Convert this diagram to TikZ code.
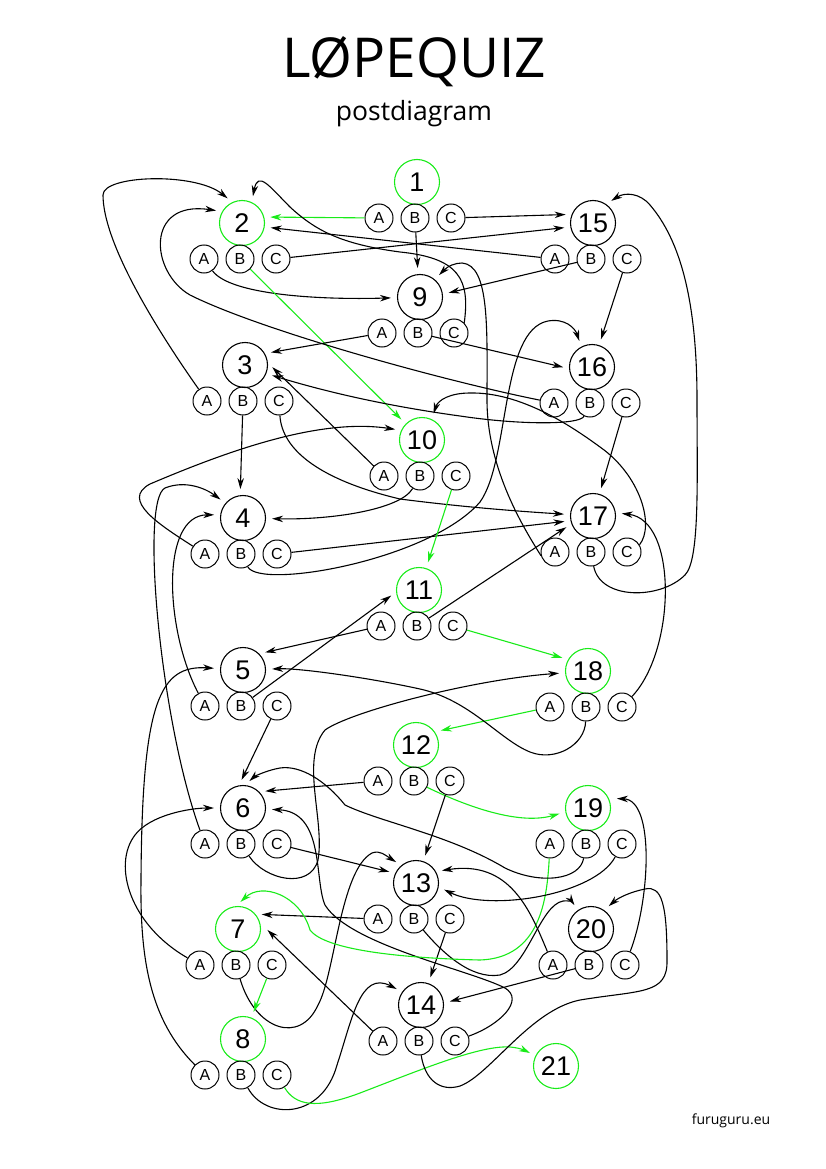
\documentclass[tikz,border=0pt]{standalone}
\usepackage{fontspec}
\setmainfont{Open Sans}
\newfontfamily\numfont{Liberation Sans}
\usetikzlibrary{arrows.meta}
\definecolor{okgreen}{RGB}{25,235,25}

% one post: big circle with its number, three answer circles below
\newcommand{\post}[4]{%
  \node[#4] (p#1) at (#2,#3) {#1};
  \node[opt] (p#1A) at ([shift={(-38,36)}]p#1.center) {A};
  \node[opt] (p#1B) at ([shift={(-2,36)}]p#1.center) {B};
  \node[opt] (p#1C) at ([shift={(34,36)}]p#1.center) {C};
}

\begin{document}
\begin{tikzpicture}[
  x=1pt, y=-1pt,
  > = {Stealth[length=11pt,width=6.5pt,inset=3.5pt]},
  big/.style = {draw,circle,line width=1.1pt,minimum size=45pt,inner sep=0pt,font=\numfont\fontsize{27}{27}\selectfont},
  goal/.style = {big,draw=okgreen},
  opt/.style = {draw,circle,line width=1pt,minimum size=28pt,inner sep=0pt,font=\numfont\fontsize{16}{16}\selectfont},
  link/.style = {->,line width=1.1pt,shorten >=6pt},
  way/.style = {link,color=okgreen}
  ]
	\useasboundingbox (0,0) rectangle (826,1169);

	\node[font=\fontsize{55}{55}\selectfont,anchor=base] (title) at (414,78) {LØPEQUIZ};
	\node[font=\fontsize{26.5}{26.5}\selectfont,anchor=base] (sub) at (414,121) {postdiagram};
	\node[font=\fontsize{14}{14}\selectfont,anchor=base] (site) at (731,1124) {furuguru.eu};

	\post{1}{417}{182}{goal}
	\post{2}{242}{223}{goal}
	\post{15}{593}{223}{big}
	\post{9}{420}{297}{big}
	\post{3}{245}{365}{big}
	\post{16}{592}{367}{big}
	\post{10}{422}{440}{goal}
	\post{4}{243}{518}{big}
	\post{17}{593}{516}{big}
	\post{11}{419}{590}{goal}
	\post{5}{243}{670}{big}
	\post{18}{588}{671}{goal}
	\post{12}{416}{745}{goal}
	\post{6}{243}{808}{big}
	\post{19}{588}{808}{goal}
	\post{13}{416}{883}{big}
	\post{7}{238}{929}{goal}
	\post{20}{591}{929}{big}
	\post{14}{421}{1005}{big}
	\post{8}{243}{1039}{goal}
	\node[goal] (p21) at (556,1066) {21};

	% 1 to 4
	\draw[way] (p1A) -- (p2.15);
	\draw[link] (p1B) -- (p9.95);
	\draw[link] (p1C) -- (p15.158);
	\draw[link] (p2A) .. controls (230,295) and (320,300) .. (p9);
	\draw[way] (p2B) -- (p10);
	\draw[link] (p2C) -- (p15.190);
	\draw[link] (p3A) .. controls (150,320) and (103,240) .. (103,195) .. controls (103,175) and (195,172) .. (p2.115);
	\draw[link] (p3B) -- (p4.97);
	\draw[link] (p3C) .. controls (282,450) and (320,480) .. (400,499) .. controls (470,508) and (530,512) .. (p17);
	\draw[link] (p4A) .. controls (160,525) and (120,500) .. (150,484) .. controls (230,450) and (320,418) .. (p10.155);
	\draw[link] (p4B) .. controls (260,590) and (430,560) .. (480,502) .. controls (510,460) and (500,330) .. (548,321) .. controls (565,318) and (575,328) .. (p16.118);
	\draw[link] (p4C) -- (p17.192);

	% 5 to 8
	\draw[link] (p5A) .. controls (165,630) and (160,515) .. (p4.172);
	\draw[link] (p5B) -- (p11.185);
	\draw[link] (p5C) -- (p6.100);
	\draw[link] (p6A) .. controls (160,720) and (140,500) .. (165,488) .. controls (185,480) and (205,488) .. (p4.140);
	\draw[link] (p6B) .. controls (265,880) and (310,890) .. (318,860) .. controls (325,820) and (300,760) .. (325,730) .. controls (350,712) and (470,680) .. (p18);
	\draw[link] (p6C) -- (p13.155);
	\draw[link] (p7A) .. controls (130,925) and (112,865) .. (135,835) .. controls (150,815) and (190,808) .. (p6);
	\draw[link] (p7B) .. controls (255,1030) and (300,1045) .. (318,1005) .. controls (335,975) and (340,870) .. (372,853) .. controls (380,850) and (385,855) .. (p13.130);
	\draw[way] (p7C) -- (p8);
	\draw[link] (p8A) .. controls (150,1020) and (140,960) .. (141,880) .. controls (142,700) and (160,665) .. (p5);
	\draw[link] (p8B) .. controls (265,1120) and (322,1120) .. (337,1065) .. controls (352,1020) and (360,970) .. (p14.145);
	\draw[way] (p8C) .. controls (295,1105) and (315,1110) .. (360,1093) .. controls (420,1070) and (480,1045) .. (510,1047) .. controls (522,1048) and (528,1052) .. (p21);

	% 9 to 12
	\draw[link] (p9A) -- (p3.30);
	\draw[link] (p9B) -- (p16.184);
	\draw[link] (p9C.north east) .. controls (470,280) and (460,258) .. (400,252) .. controls (340,244) and (315,230) .. (290,207) .. controls (270,187) and (258,170) .. (p2.65);
	\draw[link] (p10A) -- (p3.5);
	\draw[link] (p10B) .. controls (400,510) and (330,520) .. (p4);
	\draw[way] (p10C) -- (p11);
	\draw[link] (p11A) -- (p5.45);
	\draw[link] (p11B) -- (p17.200);
	\draw[way] (p11C) -- (p18.150);
	\draw[link] (p12A) -- (p6.45);
	\draw[way] (p12B) .. controls (470,808) and (520,825) .. (p19.190);
	\draw[link] (p12C) -- (p13);

	% 13 to 16
	\draw[link] (p13A) -- (p7.40);
	\draw[link] (p13B) .. controls (440,950) and (470,980) .. (500,975) .. controls (527,968) and (540,905) .. (563,901) .. controls (568,900) and (573,903) .. (p20.125);
	\draw[link] (p13C) -- (p14);
	\draw[link,shorten >=10pt] (p14A) -- (p7.15);
	\draw[link] (p14B) .. controls (425,1080) and (440,1092) .. (460,1086) .. controls (490,1075) and (530,1010) .. (580,1000) .. controls (640,990) and (668,995) .. (667,960) .. controls (667,905) and (662,885) .. (645,889) .. controls (630,892) and (618,898) .. (p20.55);
	\draw[link] (p14C) .. controls (500,1025) and (525,1000) .. (505,988) .. controls (470,970) and (350,945) .. (325,905) .. controls (314,880) and (325,812) .. (p6);
	\draw[link] (p15A) -- (p2.350);
	\draw[link] (p15B) -- (p9.7);
	\draw[link] (p15C) -- (p16);
	\draw[link] (p16A) .. controls (440,380) and (260,330) .. (190,295) .. controls (150,272) and (145,200) .. (p2.150);
	\draw[link] (p16B) .. controls (580,425) and (520,425) .. (460,416) .. controls (380,405) and (320,390) .. (p3.338);
	\draw[link] (p16C) -- (p17);

	% 17 to 20
	\draw[link] (p17A.195) .. controls (525,530) and (487,470) .. (487,400) .. controls (487,330) and (490,265) .. (462,263) .. controls (455,263) and (448,266) .. (p9.50);
	\draw[link] (p17B) .. controls (600,600) and (660,600) .. (685,575) .. controls (700,560) and (697,480) .. (697,400) .. controls (697,300) and (680,240) .. (650,205) .. controls (640,193) and (625,192) .. (p15.55);
	\draw[link] (p17C.30) .. controls (655,525) and (640,475) .. (600,447) .. controls (570,425) and (520,392) .. (470,393) .. controls (450,393) and (438,400) .. (p10.65);
	\draw[way] (p18A) -- (p12.35);
	\draw[link] (p18B) .. controls (585,745) and (555,762) .. (530,752) .. controls (500,740) and (470,700) .. (420,689) .. controls (370,678) and (300,668) .. (p5);
	\draw[link] (p18C) .. controls (676,650) and (678,520) .. (p17.8);
	\draw[way] (p19A) .. controls (547,900) and (540,958) .. (480,960) .. controls (400,958) and (325,950) .. (310,930) .. controls (300,895) and (262,882) .. (p7.95);
	\draw[link] (p19B) .. controls (580,880) and (540,885) .. (505,868) .. controls (450,835) and (380,822) .. (345,805) .. controls (325,780) and (300,765) .. (280,768) .. controls (268,770) and (255,776) .. (p6.85);
	\draw[link] (p19C) .. controls (595,895) and (490,912) .. (p13.350);
	\draw[link] (p20A) .. controls (530,910) and (510,860) .. (p13.30);
	\draw[link] (p20B) -- (p14.5);
	\draw[link,shorten >=8pt] (p20C) .. controls (650,900) and (655,800) .. (p19.25);

\end{tikzpicture}
\end{document}
